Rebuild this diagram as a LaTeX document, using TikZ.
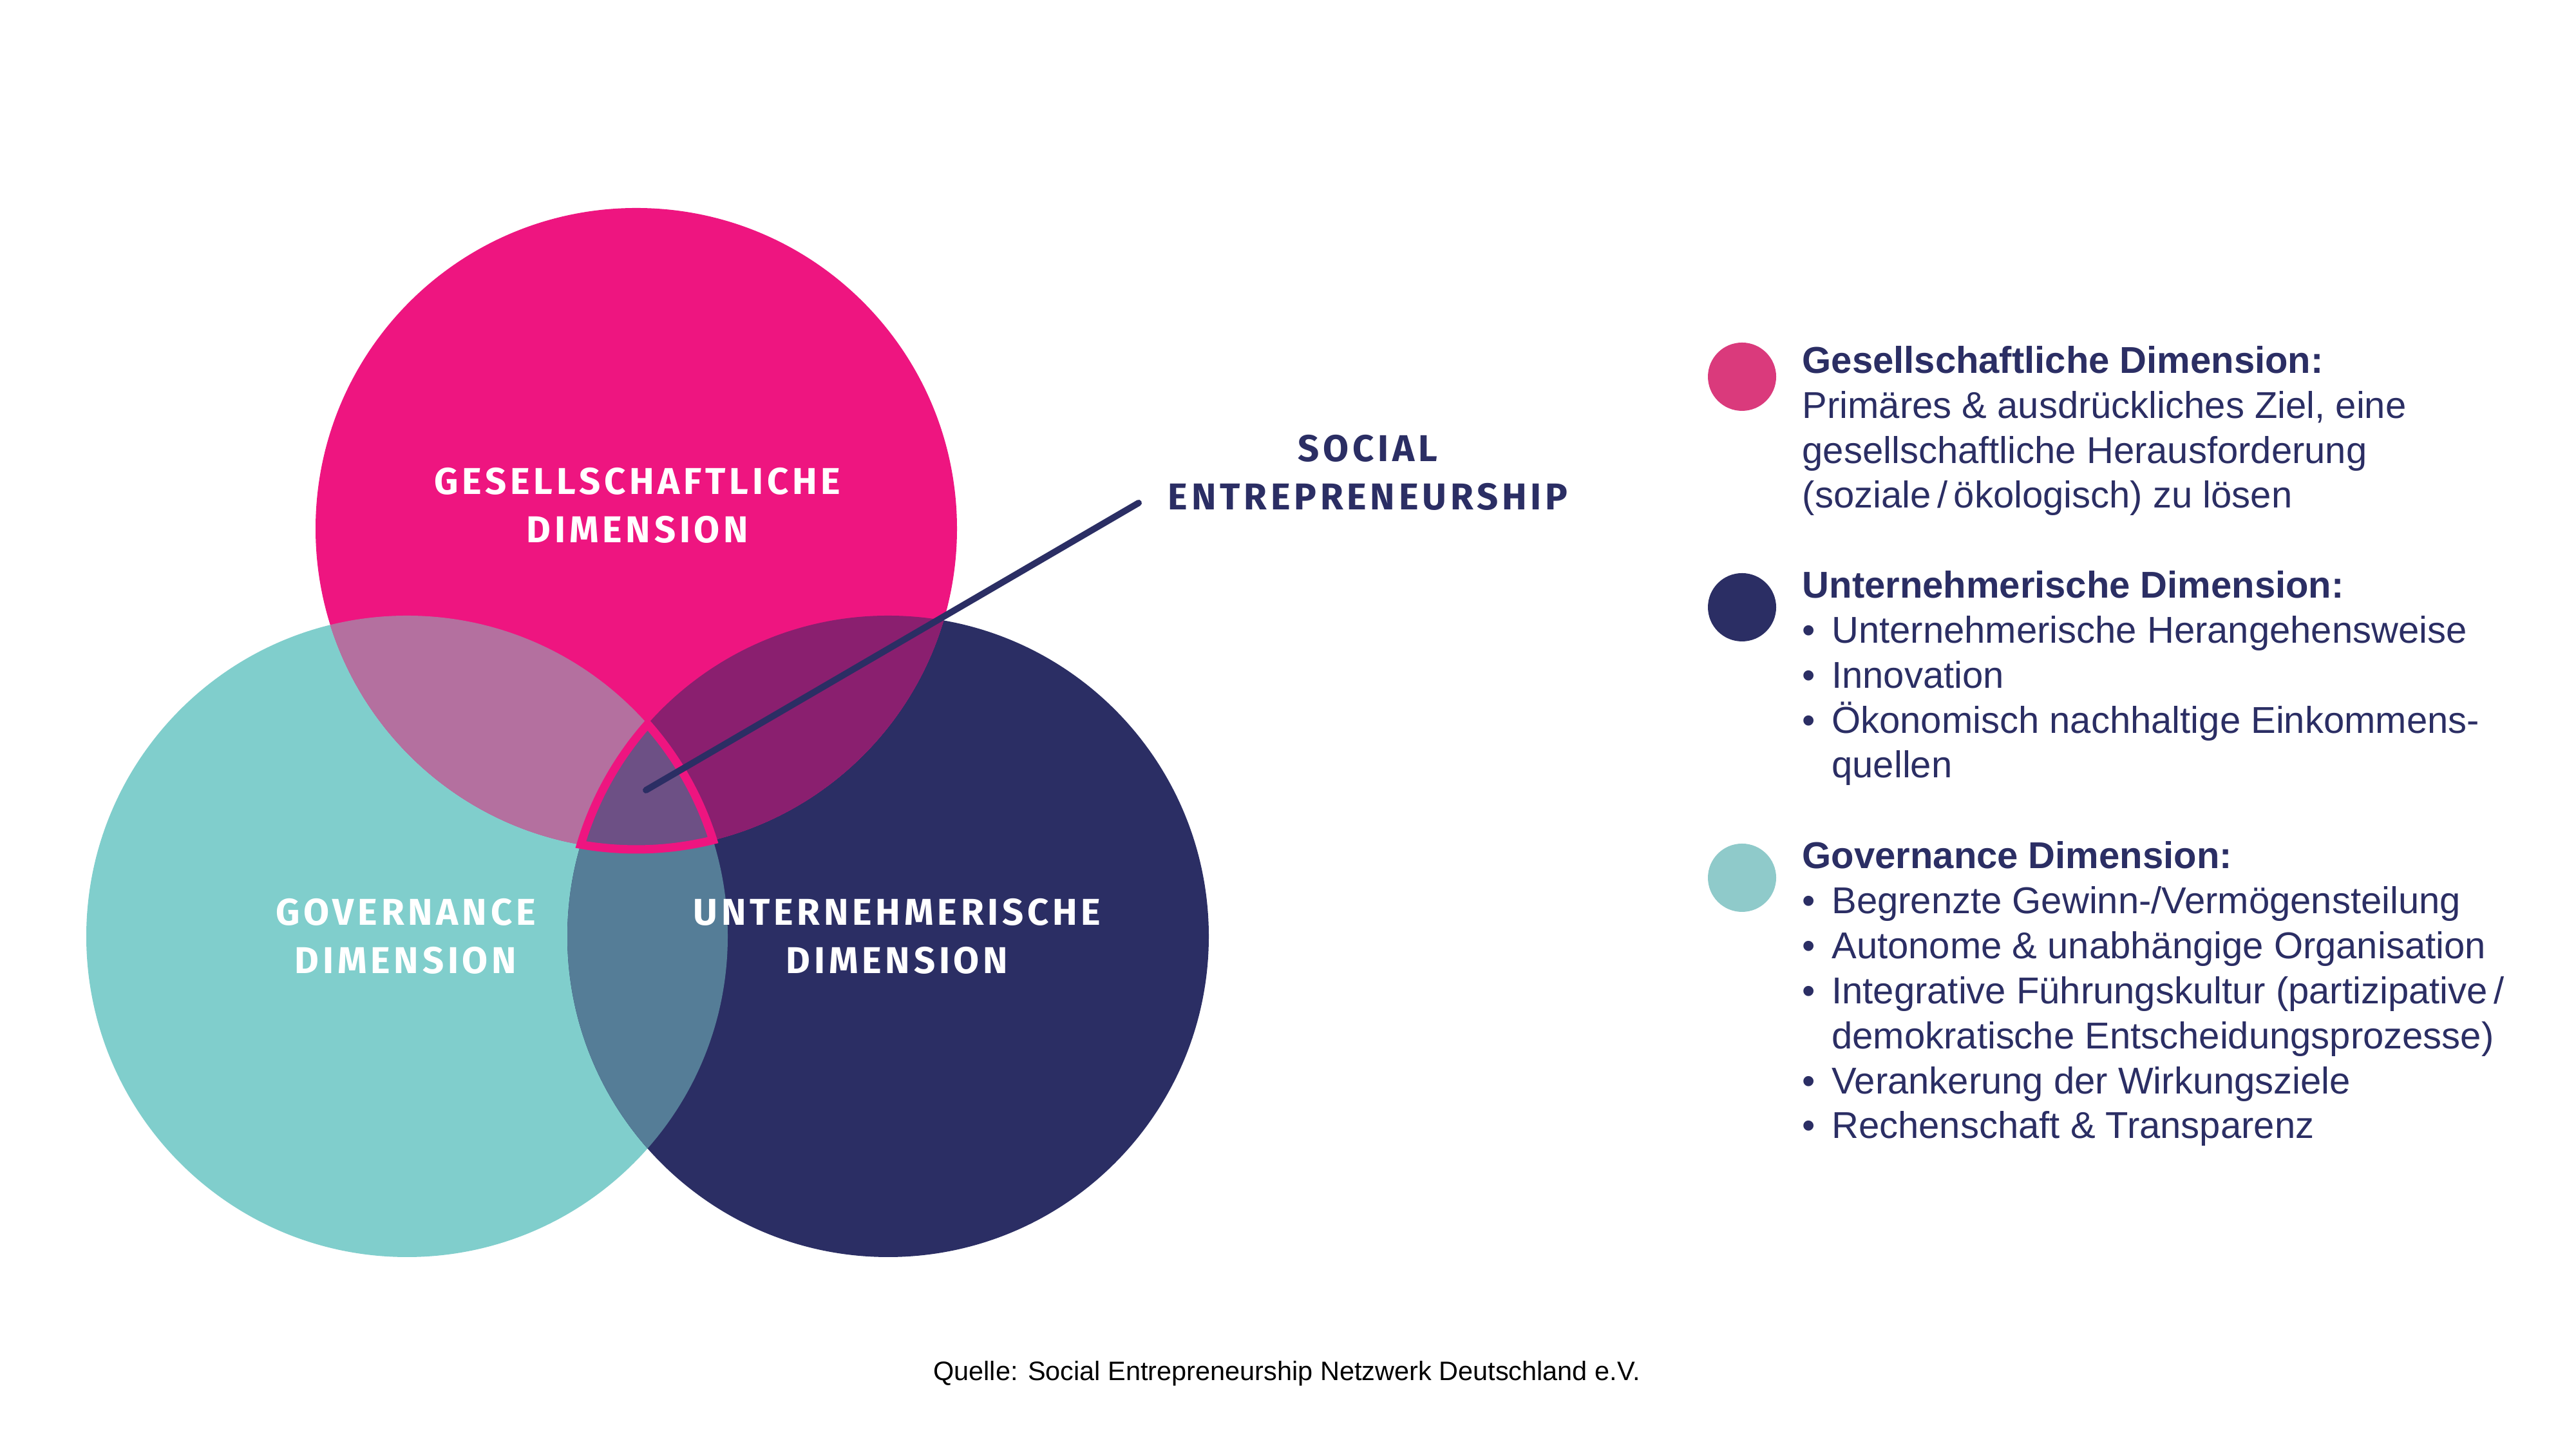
\documentclass[tikz,border=0pt]{standalone}
\usepackage{fontspec}
\setmainfont{Liberation Sans}
\newfontfamily\capsfont{Fira Sans}[LetterSpace=10.0]
\usepackage{tikz}
\usetikzlibrary{positioning}
\definecolor{sepink}{HTML}{EE1580}
\definecolor{seteal}{HTML}{80CECC}
\definecolor{senavy}{HTML}{2B2E64}
\definecolor{pinkteal}{HTML}{B4709F}
\definecolor{pinknavy}{HTML}{8A1F6F}
\definecolor{tealnavy}{HTML}{557D97}
\definecolor{allthree}{HTML}{6D5085}
\definecolor{dotpink}{HTML}{DA3A7C}
\definecolor{dotteal}{HTML}{8FCACA}
\newcommand{\legbullet}{\makebox[13pt][l]{\textbullet}}

\begin{document}
\begin{tikzpicture}[
    dimlabel/.style={font=\capsfont\bfseries\fontsize{16.5}{21.6}\selectfont, text=white, align=center, anchor=base, inner sep=0pt},
    legtext/.style={font=\fontsize{16.5}{19.9}\selectfont, text=senavy, align=left, anchor=base west, inner sep=0pt},
    legdot/.style={circle, minimum size=1.06cm, inner sep=0pt}]
  \useasboundingbox (0,0) rectangle (40,22.5);
  \fill[white] (0,0) rectangle (40,22.5);
  \def\rad{4.98}
  \coordinate (gcen) at (9.88,14.29);
  \coordinate (tcen) at (6.32,7.96);
  \coordinate (ucen) at (13.79,7.96);
  \fill[seteal] (tcen) circle (\rad);
  \fill[senavy] (ucen) circle (\rad);
  \fill[sepink] (gcen) circle (\rad);
  \begin{scope}
    \clip (gcen) circle (\rad);
    \fill[pinkteal] (tcen) circle (\rad);
    \fill[pinknavy] (ucen) circle (\rad);
  \end{scope}
  \begin{scope}
    \clip (tcen) circle (\rad);
    \fill[tealnavy] (ucen) circle (\rad);
  \end{scope}
  \filldraw[fill=allthree, draw=sepink, line width=3.7pt]
    (10.055,11.254) arc[start angle=138.59, end angle=163.37, radius=\rad]
    arc[start angle=260.03, end angle=283.84, radius=\rad]
    arc[start angle=17.46, end angle=41.41, radius=\rad] -- cycle;
  \node[dimlabel] (glabel) at (9.90,14.07) {GESELLSCHAFTLICHE\\DIMENSION};
  \node[dimlabel] (tlabel) at (6.30,7.38) {GOVERNANCE\\DIMENSION};
  \node[dimlabel] (ulabel) at (13.93,7.38) {UNTERNEHMERISCHE\\DIMENSION};
  \node[dimlabel, text=senavy] (selabel) at (21.24,14.58) {SOCIAL\\ENTREPRENEURSHIP};
  \coordinate (secore) at (10.03,10.23);
  \coordinate (sepoint) at (17.68,14.69);
  \draw[senavy, line width=2.85pt, line cap=round] (secore) -- (sepoint);
  \node[legdot, fill=dotpink] (gdot) at (27.05,16.65) {};
  \node[legtext] (glegend) at (27.98,14.61) {\textbf{Gesellschaftliche Dimension:}\\Primäres \& ausdrückliches Ziel, eine\\gesellschaftliche Herausforderung\\(soziale\,/\,ökologisch) zu lösen};
  \node[legdot, fill=senavy] (udot) at (27.05,13.07) {};
  \node[legtext] (ulegend) at (27.98,10.42) {\textbf{Unternehmerische Dimension:}\\\legbullet Unternehmerische Herangehensweise\\\legbullet Innovation\\\legbullet Ökonomisch nachhaltige Einkommens-\\\hspace*{13pt}quellen};
  \node[legdot, fill=dotteal] (tdot) at (27.05,8.87) {};
  \node[legtext] (tlegend) at (27.98,4.82) {\textbf{Governance Dimension:}\\\legbullet Begrenzte Gewinn-/Vermögensteilung\\\legbullet Autonome \& unabhängige Organisation\\\legbullet Integrative Führungskultur (partizipative\,/\\\hspace*{13pt}demokratische Entscheidungsprozesse)\\\legbullet Verankerung der Wirkungsziele\\\legbullet Rechenschaft \& Transparenz};
  \node[font=\fontsize{11.8}{14}\selectfont, text=black] (source) at (19.98,1.17) {Quelle: Social Entrepreneurship Netzwerk Deutschland e.V.};
\end{tikzpicture}
\end{document}
